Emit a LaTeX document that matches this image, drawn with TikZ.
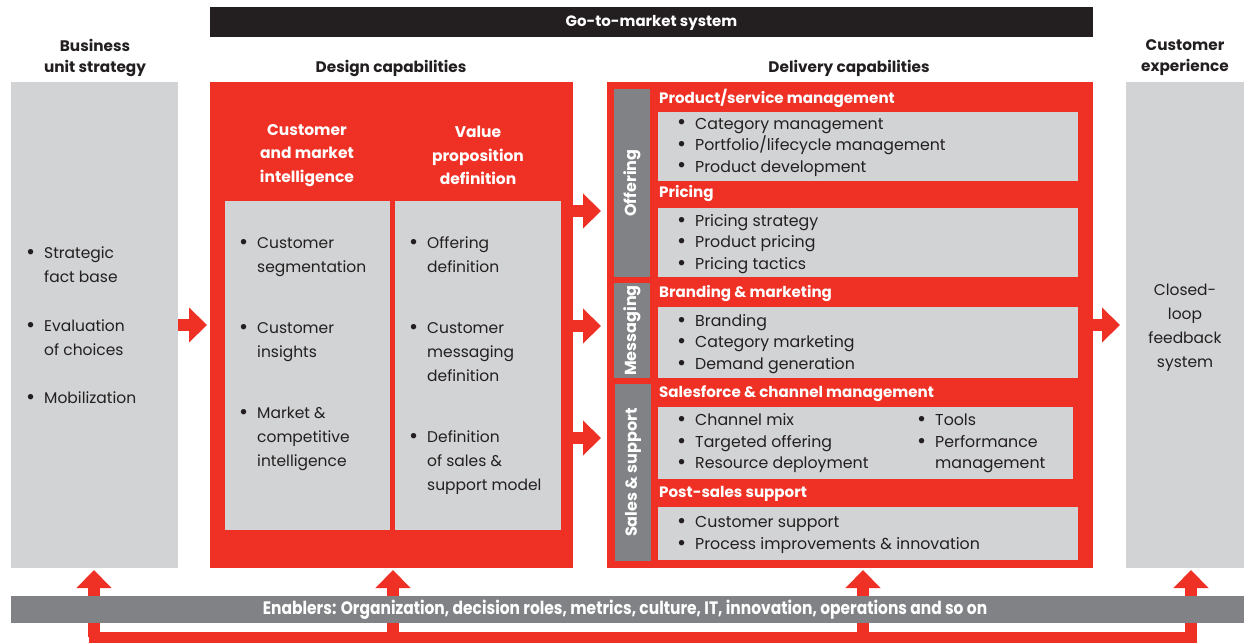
\documentclass[tikz,border=0pt]{standalone}
\usepackage{fontspec}
\setmainfont{Poppins}
\newfontfamily\condfont{Poppins}[FakeStretch=0.86]
\usetikzlibrary{positioning,arrows.meta,calc}
\definecolor{bcgred}{RGB}{238,49,36}
\definecolor{lightpanel}{RGB}{209,211,212}
\definecolor{darkpanel}{RGB}{128,130,133}
\definecolor{inkblack}{RGB}{35,31,32}
\newcommand{\bul}{\makebox[17pt][l]{\hspace*{-1pt}{\fontsize{22}{0}\selectfont\raisebox{-0.9pt}{\textbullet}}}}
\newcommand{\ind}{\hspace*{17pt}}

\begin{document}
\begin{tikzpicture}[x=1pt, y=-1pt,
    panel/.style={inner sep=0pt, outer sep=0pt},
    title/.style={font=\fontsize{15.3}{21}\selectfont\bfseries, text=inkblack, align=center},
    head/.style={font=\fontsize{15.5}{23.5}\selectfont\bfseries, text=white, align=center},
    sect/.style={font=\fontsize{15.1}{18}\selectfont\bfseries, text=white, anchor=west, inner sep=0pt},
    tab/.style={font=\fontsize{16}{18}\selectfont\bfseries, text=white, rotate=90},
    list/.style={font=\fontsize{15.5}{24}\selectfont, text=inkblack, align=left, anchor=west, inner sep=0pt},
    dlist/.style={list, font=\fontsize{15.8}{21.5}\selectfont},
    blockarrow/.style={bcgred, line width=12pt, -{Triangle[width=34pt, length=18pt]}},
    loopline/.style={bcgred, line width=11pt, line cap=rect}
]
\useasboundingbox (0,0) rectangle (1248,644);

% Go-to-market bar
\node[panel, fill=inkblack, minimum width=883pt, minimum height=30pt] (gtm) at (651.5,22) {};
\node[font=\fontsize{15}{18}\selectfont\bfseries, text=white] (gtmtext) at (651.5,23) {Go-to-market system};

% Column titles
\node[title] (strategytitle) at (95,57.5) {Business\\unit strategy};
\node[title] (designtitle) at (391,68) {Design capabilities};
\node[title] (deliverytitle) at (849,68) {Delivery capabilities};
\node[title] (experiencetitle) at (1185,57.5) {Customer\\experience};

% Business unit strategy
\node[panel, fill=lightpanel, minimum width=167pt, minimum height=486pt] (strategy) at (94.5,325) {};
\node[list] (strategylist) at (27,325.5) {\bul Strategic\\\ind fact base\\[25pt]\bul Evaluation\\\ind of choices\\[24pt]\bul Mobilization};

% Design capabilities
\node[panel, fill=bcgred, minimum width=363pt, minimum height=486pt] (design) at (391.5,325) {};
\node[head] (cmihead) at (307,155.5) {Customer\\and market\\intelligence};
\node[head] (vpdhead) at (478,155.5) {Value\\proposition\\definition};
\node[panel, fill=lightpanel, minimum width=165pt, minimum height=329pt] (cmi) at (307.5,365.5) {};
\node[panel, fill=lightpanel, minimum width=166pt, minimum height=329pt] (vpd) at (478,365.5) {};
\node[list] (cmilist) at (240,354) {\bul Customer\\\ind segmentation\\[37pt]\bul Customer\\\ind insights\\[37pt]\bul Market \&\\\ind competitive\\\ind intelligence};
\node[list] (vpdlist) at (410,366) {\bul Offering\\\ind definition\\[37pt]\bul Customer\\\ind messaging\\\ind definition\\[37pt]\bul Definition\\\ind of sales \&\\\ind support model};

% Delivery capabilities
\node[panel, fill=bcgred, minimum width=486pt, minimum height=486pt] (delivery) at (850,325) {};
\node[panel, fill=darkpanel, minimum width=36pt, minimum height=188pt] (offering) at (632,183) {};
\node[panel, fill=darkpanel, minimum width=36pt, minimum height=95pt] (messaging) at (632,330.5) {};
\node[panel, fill=darkpanel, minimum width=36pt, minimum height=177pt] (sales) at (633,472.5) {};
\node[tab] (offeringtext) at (offering) {Offering};
\node[tab] (messagingtext) at (messaging) {Messaging};
\node[tab] (salestext) at (sales) {Sales \& support};

\node[sect] (prodhead) at (659,98) {Product/service management};
\node[panel, fill=lightpanel, minimum width=420pt, minimum height=69pt] (prodbox) at (868,146.5) {};
\node[dlist] (prodlist) at (678,147) {\bul Category management\\\bul Portfolio/lifecycle management\\\bul Product development};

\node[sect] (pricehead) at (659,194) {Pricing};
\node[panel, fill=lightpanel, minimum width=420pt, minimum height=69pt] (pricebox) at (868,242.5) {};
\node[dlist] (pricelist) at (678,244) {\bul Pricing strategy\\\bul Product pricing\\\bul Pricing tactics};

\node[sect] (brandhead) at (659,294) {Branding \& marketing};
\node[panel, fill=lightpanel, minimum width=420pt, minimum height=71pt] (brandbox) at (868,342.5) {};
\node[dlist] (brandlist) at (678,344) {\bul Branding\\\bul Category marketing\\\bul Demand generation};

\node[sect] (saleshead) at (659,394) {Salesforce \& channel management};
\node[panel, fill=lightpanel, minimum width=415pt, minimum height=72pt] (salesbox) at (865.5,443) {};
\node[dlist] (saleslist) at (678,443.5) {\bul Channel mix\\\bul Targeted offering\\\bul Resource deployment};
\node[dlist] (toollist) at (918,443.5) {\bul Tools\\\bul Performance\\\ind management};

\node[sect] (posthead) at (659,494) {Post-sales support};
\node[panel, fill=lightpanel, minimum width=420pt, minimum height=53pt] (postbox) at (868,533.5) {};
\node[dlist] (postlist) at (678,535) {\bul Customer support\\\bul Process improvements \& innovation};

% Customer experience
\node[panel, fill=lightpanel, minimum width=118pt, minimum height=486pt] (experience) at (1185,325) {};
\node[list, anchor=center, align=center] (loopfeedback) at (1185,327.5) {Closed-\\loop\\feedback\\system};

% Flow arrows
\coordinate (row1) at (0,211);
\coordinate (row2) at (0,326);
\coordinate (row3) at (0,438);
\draw[blockarrow, shorten >=3pt] (strategy.east) -- (design.west);
\draw[blockarrow, shorten >=6pt] (design.east |- row1) -- (delivery.west |- row1);
\draw[blockarrow, shorten >=6pt] (design.east |- row2) -- (delivery.west |- row2);
\draw[blockarrow, shorten >=6pt] (design.east |- row3) -- (delivery.west |- row3);
\draw[blockarrow, shorten >=6pt] (delivery.east) -- (experience.west);

% Enablers loop
\coordinate (e1) at (94,637);
\coordinate (e2) at (393,637);
\coordinate (e3) at (863,637);
\coordinate (e4) at (1191,637);
\draw[loopline] (e1) -- (e4);
\draw[blockarrow, shorten >=2pt] (e1) -- (e1 |- strategy.south);
\draw[blockarrow, shorten >=2pt] (e2) -- (e2 |- design.south);
\draw[blockarrow, shorten >=2pt] (e3) -- (e3 |- delivery.south);
\draw[blockarrow, shorten >=2pt] (e4) -- (e4 |- experience.south);

\node[panel, fill=darkpanel, minimum width=1233pt, minimum height=27pt] (enablers) at (627.5,609) {};
\node[font=\condfont\fontsize{18}{20}\selectfont\bfseries, text=white] (enablerstext) at (625,610) {Enablers: Organization, decision roles, metrics, culture, IT, innovation, operations and so on};

\end{tikzpicture}
\end{document}
